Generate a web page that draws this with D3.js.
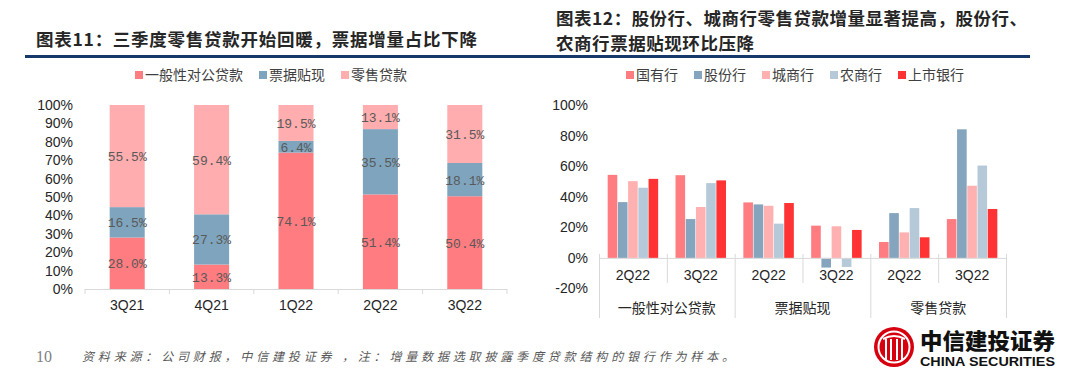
<html>
<head>
<meta charset="utf-8">
<script src="https://d3js.org/d3.v7.min.js"></script>
<style>
  body { margin: 0; background: #fff; }
  .cn { font-family: "Noto Sans CJK SC", sans-serif; }
  .num { font-family: "Liberation Sans", Arial, sans-serif; }
  .axis text { font-family: "Liberation Sans", Arial, sans-serif; font-size: 14px; fill: #262626; }
  .axis path { display: none; }
</style>
</head>
<body>
<svg id="vis" width="1080" height="384"></svg>
<script>
// ---- left chart data (share of new loans, %) ----
var leftCats = ["3Q21", "4Q21", "1Q22", "2Q22", "3Q22"];
var leftSeries = ["一般性对公贷款", "票据贴现", "零售贷款"];
var corpShare = [28.0, 13.3, 74.1, 51.4, 50.4];
var billShare = [16.5, 27.3, 6.4, 35.5, 18.1];
var retailShare = [55.5, 59.4, 19.5, 13.1, 31.5];
var leftTicks = [0, 10, 20, 30, 40, 50, 60, 70, 80, 90, 100];
var leftColors = ["#ff7c80", "#7fa5be", "#ffadae"];

// ---- right chart data (growth, %) ----
var groups = ["一般性对公贷款", "票据贴现", "零售贷款"];
var quarters = ["2Q22", "3Q22"];
var banks = ["国有行", "股份行", "城商行", "农商行", "上市银行"];
// order: group x quarter
var stateOwned = [54.3, 54.1, 36.3, 21.1, 10.4, 25.4];
var jointStock = [36.5, 25.4, 35.0, -6.3, 29.3, 84.1];
var cityComm = [50.2, 33.3, 34.1, 20.7, 16.7, 47.2];
var ruralComm = [45.9, 48.9, 22.4, -5.9, 32.6, 60.4];
var listedBanks = [51.7, 50.7, 35.9, 18.3, 13.5, 32.0];
var rightTicks = [-20, 0, 20, 40, 60, 80, 100];
var rightColors = ["#ff7c80", "#84a5bd", "#ffb1b1", "#b5c9d8", "#ff3333"];

var vis = d3.select("#vis");
vis.append("rect").attr("width", 1080).attr("height", 384).attr("fill", "#fff");

// titles
vis.append("text").attr("class", "cn").attr("x", 36).attr("y", 46)
  .attr("font-size", 17.5).attr("font-weight", 700).attr("fill", "#262626")
  .attr("textLength", 441).attr("lengthAdjust", "spacing")
  .text("图表11：三季度零售贷款开始回暖，票据增量占比下降");
vis.append("text").attr("class", "cn").attr("x", 556).attr("y", 25)
  .attr("font-size", 17.5).attr("font-weight", 700).attr("fill", "#262626")
  .attr("textLength", 471).attr("lengthAdjust", "spacing")
  .text("图表12：股份行、城商行零售贷款增量显著提高，股份行、");
vis.append("text").attr("class", "cn").attr("x", 556).attr("y", 50)
  .attr("font-size", 17.5).attr("font-weight", 700).attr("fill", "#262626")
  .attr("textLength", 198).attr("lengthAdjust", "spacing")
  .text("农商行票据贴现环比压降");
vis.append("rect").attr("x", 25).attr("y", 55).attr("width", 1005).attr("height", 3).attr("fill", "#15396a");

// legends
function legend(names, colors, x0, y) {
  var x = x0;
  names.forEach(function(n, i) {
    vis.append("rect").attr("x", x).attr("y", y - 4).attr("width", 8).attr("height", 8).attr("fill", colors[i]);
    var t = vis.append("text").attr("class", "cn").attr("x", x + 10).attr("y", y + 5)
      .attr("font-size", 14).attr("fill", "#404040").text(n);
    x = x + 10 + t.node().getComputedTextLength() + 16;
  });
}
legend(leftSeries, leftColors, 135, 75);
legend(banks, rightColors, 626, 75);

// ---------------- left stacked chart ----------------
var ly = d3.scaleLinear().domain([0, 100]).range([289, 105]);
var lx = d3.scaleBand().domain(leftCats).range([85, 507]).paddingInner(0.585).paddingOuter(0.2925);

vis.append("g").attr("class", "axis").attr("transform", "translate(73,0)")
  .call(d3.axisLeft(ly).tickValues(leftTicks).tickSize(0).tickPadding(0).tickFormat(function(d) { return d + "%"; }));

var leftRows = leftCats.map(function(c, i) {
  return { cat: c, "一般性对公贷款": corpShare[i], "票据贴现": billShare[i], "零售贷款": retailShare[i] };
});
var stacked = d3.stack().keys(leftSeries)(leftRows);

stacked.forEach(function(layer, si) {
  var g = vis.append("g");
  g.selectAll("rect").data(layer).enter().append("rect")
    .attr("x", function(d) { return lx(d.data.cat); })
    .attr("width", lx.bandwidth())
    .attr("y", function(d) { return ly(d[1]); })
    .attr("height", function(d) { return ly(d[0]) - ly(d[1]); })
    .attr("fill", leftColors[si]);
  g.selectAll("text").data(layer).enter().append("text")
    .attr("x", function(d) { return lx(d.data.cat) + lx.bandwidth() / 2; })
    .attr("y", function(d) { return ly((d[0] + d[1]) / 2) + 5; })
    .attr("text-anchor", "middle")
    .attr("font-family", "Liberation Mono, monospace").attr("font-size", 13).attr("fill", "#595959")
    .text(function(d) { return (d[1] - d[0]).toFixed(1) + "%"; });
});

vis.append("line").attr("x1", 85).attr("x2", 507).attr("y1", 289.5).attr("y2", 289.5).attr("stroke", "#d9d9d9");
var lBounds = leftCats.map(function(c) { return lx(c) - lx.step() * lx.paddingInner() / 2; }).concat([507]);
vis.selectAll(".ltick").data(lBounds).enter().append("line")
  .attr("x1", function(d) { return d; }).attr("x2", function(d) { return d; })
  .attr("y1", 289).attr("y2", 294).attr("stroke", "#d9d9d9");
vis.selectAll(".lcat").data(leftCats).enter().append("text").attr("class", "num")
  .attr("x", function(d) { return lx(d) + lx.bandwidth() / 2; }).attr("y", 310)
  .attr("text-anchor", "middle").attr("font-size", 14).attr("fill", "#262626")
  .text(function(d) { return d; });

// ---------------- right grouped chart ----------------
var ry = d3.scaleLinear().domain([-20, 100]).range([288.5, 105]);
var subKeys = [];
groups.forEach(function(g) { quarters.forEach(function(q) { subKeys.push(g + "|" + q); }); });
var rx = d3.scaleBand().domain(subKeys).range([599, 1006]).padding(0);
var bx = d3.scaleBand().domain(banks).range([0, rx.bandwidth()]).paddingInner(0.06).paddingOuter(0.85);

vis.append("g").attr("class", "axis").attr("transform", "translate(588,0)")
  .call(d3.axisLeft(ry).tickValues(rightTicks).tickSize(0).tickPadding(0).tickFormat(function(d) { return d + "%"; }));

var bankVals = [stateOwned, jointStock, cityComm, ruralComm, listedBanks];
var rightRows = [];
subKeys.forEach(function(k, i) {
  banks.forEach(function(b, j) { rightRows.push({ key: k, bank: b, v: bankVals[j][i], c: rightColors[j] }); });
});
vis.append("g").selectAll("rect").data(rightRows).enter().append("rect")
  .attr("x", function(d) { return rx(d.key) + bx(d.bank); })
  .attr("width", bx.bandwidth())
  .attr("y", function(d) { return ry(Math.max(0, d.v)); })
  .attr("height", function(d) { return Math.abs(ry(d.v) - ry(0)); })
  .attr("fill", function(d) { return d.c; });

vis.append("line").attr("x1", 599).attr("x2", 1006).attr("y1", ry(0) + 0.5).attr("y2", ry(0) + 0.5).attr("stroke", "#d9d9d9");
subKeys.forEach(function(k, i) {
  var x0 = rx(k);
  var long = (i % 2 === 0);
  vis.append("line").attr("x1", x0 + 0.5).attr("x2", x0 + 0.5).attr("y1", ry(0) - 4)
    .attr("y2", long ? 318 : 283).attr("stroke", "#d9d9d9");
  vis.append("text").attr("class", "num").attr("x", x0 + rx.bandwidth() / 2).attr("y", 280)
    .attr("text-anchor", "middle").attr("font-size", 14).attr("fill", "#262626").text(k.split("|")[1]);
});
vis.append("line").attr("x1", 1006.5).attr("x2", 1006.5).attr("y1", ry(0) - 4).attr("y2", 318).attr("stroke", "#d9d9d9");
groups.forEach(function(g) {
  vis.append("text").attr("class", "cn").attr("x", rx(g + "|" + quarters[0]) + rx.bandwidth())
    .attr("y", 313).attr("text-anchor", "middle").attr("font-size", 14).attr("fill", "#262626").text(g);
});

// ---------------- footer ----------------
vis.append("text").attr("x", 36).attr("y", 362).attr("font-family", "Liberation Serif, serif")
  .attr("font-size", 16).attr("fill", "#7f7f7f").text("10");
vis.append("text").attr("class", "cn").attr("x", 82).attr("y", 361).attr("font-size", 12)
  .attr("font-style", "italic").attr("fill", "#595959")
  .attr("textLength", 652).attr("lengthAdjust", "spacing")
  .text("资料来源：公司财报，中信建投证券 ，注：增量数据选取披露季度贷款结构的银行作为样本。");

// logo
var logo = vis.append("g").attr("transform", "translate(894,347)");
logo.append("circle").attr("r", 20).attr("fill", "#d7000f");
logo.append("circle").attr("r", 15.5).attr("fill", "none").attr("stroke", "#fff").attr("stroke-width", 2);
logo.append("path").attr("d", "M-11,-8 Q0,-14 11,-8").attr("fill", "none").attr("stroke", "#fff").attr("stroke-width", 2);
[-8, -3, 3, 8].forEach(function(x) {
  logo.append("line").attr("x1", x).attr("x2", x).attr("y1", -8).attr("y2", 13)
    .attr("stroke", "#fff").attr("stroke-width", 2);
});
vis.append("text").attr("class", "cn").attr("x", 920).attr("y", 349).attr("font-size", 22)
  .attr("font-weight", 900).attr("fill", "#111").attr("textLength", 135).attr("lengthAdjust", "spacingAndGlyphs")
  .text("中信建投证券");
vis.append("text").attr("class", "num").attr("x", 920).attr("y", 366).attr("font-size", 13)
  .attr("font-weight", 700).attr("fill", "#111").attr("textLength", 135).attr("lengthAdjust", "spacingAndGlyphs")
  .text("CHINA SECURITIES");
</script>
</body>
</html>
